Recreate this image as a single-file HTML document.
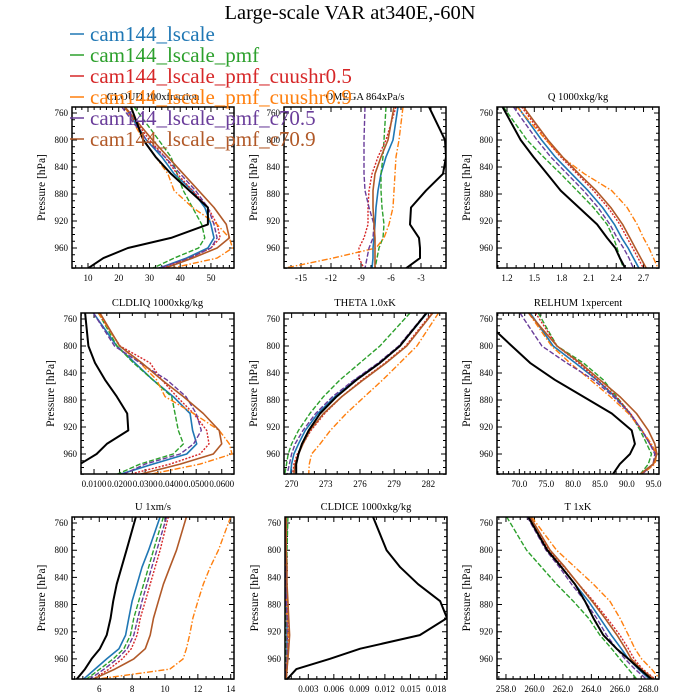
<!DOCTYPE html>
<html><head><meta charset="utf-8">
<style>
html,body{margin:0;padding:0;background:#fff;}
svg{display:block;font-family:"Liberation Serif",serif;}
</style></head>
<body>
<svg id="chart" width="700" height="700" viewBox="0 0 700 700" xmlns="http://www.w3.org/2000/svg">
<text x="350" y="19" text-anchor="middle" font-size="20.5">Large-scale VAR at340E,-60N</text>
</svg>
<script>
// Pressure levels (hPa)
const levels = [751,800,825,850,875,900,925,945,960,975,990];
const seriesNames = ["obs","cam144_lscale","cam144_lscale_pmf","cam144_lscale_pmf_cuushr0.5","cam144_lscale_pmf_cuushr0.9","cam144_lscale_pmf_c70.5","cam144_lscale_pmf_c70.9"];
const pTicks = [760,800,840,880,920,960];

const cloudObs=[24,28,32,37,43,49,49,37,23,15,10];
const cloudBlue=[22,29,34,38,44,48,50,51,49,42,33];
const cloudGreen=[25,33,37,39,41,44,47,48,46,38,31];
const cloudRed=[22,30,35,39,44,49,52,53,50,43,34];
const cloudOrange=[22,28,32,36,38,44,52,56,57,52,37];
const cloudPurple=[21,29,35,40,45,49,51,52,50,43,33];
const cloudBrown=[22,31,36,41,46,51,55,56,52,44,35];
const cloudTicks=[10,20,30,40,50];

const omegaObs=[-2.2,-0.6,-0.5,-0.8,-2.5,-4,-4.1,-3.2,-3.1,-3.1,-4.5];
const omegaBlue=[-5.3,-5.8,-6.5,-7,-7.3,-7.5,-7.6,-7.7,-7.8,-7.8,-7.9];
const omegaGreen=[-6.5,-6.7,-6.8,-7,-7,-6.9,-6.7,-6.8,-7.2,-7.4,-7.6];
const omegaRed=[-5.5,-6.5,-7.3,-7.9,-8.2,-8.3,-8.3,-8.7,-9.2,-9.2,-8.7];
const omegaOrange=[-4.8,-5.2,-5.5,-5.6,-5.7,-5.8,-6.2,-6.7,-7.5,-11.8,-16.7];
const omegaPurple=[-8.6,-8.7,-8.7,-8.7,-8.6,-8.2,-7.7,-7.8,-8.2,-8.4,-8.6];
const omegaBrown=[-5.7,-6.3,-7,-7.6,-7.8,-7.8,-7.7,-7.6,-7.6,-7.6,-7.6];
const omegaTicks=[-15,-12,-9,-6,-3];

const qObs=[1.15,1.35,1.49,1.64,1.79,1.99,2.19,2.30,2.39,2.44,2.50];
const qBlue=[1.32,1.58,1.73,1.91,2.09,2.25,2.38,2.46,2.53,2.59,2.65];
const qGreen=[1.16,1.42,1.6,1.79,1.97,2.15,2.3,2.37,2.41,2.44,2.48];
const qRed=[1.36,1.63,1.79,1.97,2.15,2.31,2.44,2.52,2.58,2.64,2.70];
const qOrange=[1.31,1.63,1.80,2.05,2.35,2.52,2.63,2.7,2.76,2.81,2.86];
const qPurple=[1.27,1.53,1.68,1.86,2.04,2.2,2.33,2.41,2.48,2.54,2.59];
const qBrown=[1.38,1.65,1.81,1.99,2.18,2.34,2.47,2.55,2.61,2.67,2.73];
const qTicks=[1.2,1.5,1.8,2.1,2.4,2.7];

const liqObs=[0.0065,0.0078,0.0104,0.0143,0.0189,0.023,0.0234,0.015,0.011,0.0045,0.0026];
const liqBlue=[0.0097,0.0189,0.026,0.033,0.041,0.0476,0.0486,0.0502,0.0463,0.033,0.0202];
const liqGreen=[0.0117,0.019,0.0254,0.033,0.0404,0.0417,0.043,0.045,0.041,0.028,0.019];
const liqRed=[0.0117,0.0202,0.0319,0.0365,0.0424,0.049,0.0541,0.055,0.0515,0.0398,0.024];
const liqOrange=[0.0117,0.02,0.028,0.0345,0.0378,0.049,0.059,0.063,0.064,0.0515,0.032];
const liqPurple=[0.0097,0.018,0.028,0.0385,0.046,0.05,0.052,0.049,0.0437,0.03,0.0215];
const liqBrown=[0.0123,0.02,0.0287,0.0365,0.045,0.0528,0.059,0.06,0.0567,0.0437,0.028];
const liqTicks=[0.01,0.02,0.03,0.04,0.05,0.06];

const thObs=[281.85,279.5,277.75,275.7,273.95,272.5,271.5,270.9,270.6,270.4,270.4];
const thBlue=[281.9,279.5,277.7,275.6,273.8,272.3,271.2,270.6,270.2,270,269.9];
const thGreen=[280.4,277.75,276,274.25,272.8,271.6,270.6,270,269.7,269.55,269.4];
const thRed=[282.3,280,278.2,276.2,274.4,272.9,271.7,271,270.5,270.2,270.1];
const thOrange=[282.9,281,279.5,278,276.4,274.8,273.4,272.5,271.75,271.55,271.5];
const thPurple=[281.8,279.4,277.6,275.5,273.6,272.1,271,270.3,270,269.8,269.6];
const thBrown=[282.4,280.1,278.3,276.3,274.4,272.8,271.6,271,270.6,270.3,270.2];
const thTicks=[270,273,276,279,282];

const rhObs=[62,68.6,72,76.6,81.9,87.2,90.9,91.5,90.6,88.7,87.4];
const rhBlue=[72,76.3,80.4,84.4,87.8,90.6,92.8,94.3,95.6,94.9,92.5];
const rhGreen=[73.5,77,81.9,85.6,88.1,90.6,92.5,93.7,94.6,94,92.5];
const rhRed=[73,77,81,84.5,88,90.7,92.8,94.3,95.5,95,92.6];
const rhOrange=[71.7,76,79.4,83.2,86.9,90.3,92.8,94.6,95.6,95.2,92.8];
const rhPurple=[70.1,74.2,78.8,83.8,87.5,90.6,92.8,94.3,95.2,94.9,92.8];
const rhBrown=[71.7,77,81.3,85,88.7,91.8,94,95.2,95.6,94.9,92.5];
const rhTicks=[70,75,80,85,90,95];

const uObs=[8.23,7.66,7.36,7.06,6.85,6.69,6.45,6.04,5.53,5.13,4.62];
const uBlue=[9.7,9,8.6,8.3,8,7.8,7.6,7.2,6.45,5.74,5.03];
const uGreen=[9.9,9.3,9,8.7,8.4,8.1,7.9,7.5,6.85,6.04,5.2];
const uRed=[10.2,9.7,9.4,9.1,8.8,8.5,8.3,7.95,7.4,6.6,5.6];
const uOrange=[14,13.25,12.75,12.33,12,11.7,11.5,11.3,11.1,10.3,5.8];
const uPurple=[10.1,9.5,9.2,8.9,8.6,8.35,8.1,7.7,7.1,6.3,5.4];
const uBrown=[11.3,10.7,10.3,9.9,9.6,9.3,9.1,8.8,8.1,6.95,5.6];
const uTicks=[6,8,10,12,14];

const iceObs=[0.0106,0.0122,0.0138,0.0159,0.0185,0.0193,0.0161,0.0091,0.0055,0.0016,0.0005];
const iceBlue=[0.0004,0.0004,0.0004,0.0004,0.0004,0.0005,0.0005,0.0005,0.0005,0.0005,0.0004];
const iceGreen=[0.0006,0.0005,0.0005,0.0004,0.0004,0.0004,0.0004,0.0004,0.0004,0.0004,0.0004];
const iceRed=[0.0004,0.0004,0.0004,0.0004,0.0005,0.0006,0.0007,0.0006,0.0005,0.0005,0.0004];
const iceOrange=[0.0003,0.0003,0.0003,0.0003,0.0004,0.0005,0.0006,0.0006,0.0005,0.0004,0.0004];
const icePurple=[0.0004,0.0004,0.0004,0.0004,0.0004,0.0005,0.0005,0.0005,0.0005,0.0004,0.0004];
const iceBrown=[0.0004,0.0004,0.0005,0.0005,0.0006,0.0007,0.0008,0.0007,0.0006,0.0005,0.0004];
const iceTicks=[0.003,0.006,0.009,0.012,0.015,0.018];

const tObs=[259.57,260.9,261.9,262.85,263.55,264.14,264.84,265.77,266.6,267.4,268.23];
const tBlue=[259.55,260.9,261.9,262.85,263.8,264.6,265.4,266.1,266.6,267.3,268.1];
const tGreen=[258.05,259.45,260.5,261.56,262.73,263.8,264.6,265.42,266,266.6,267.2];
const tRed=[259.6,261,262.1,263.1,264.15,265.1,266,266.6,267,267.6,268.5];
const tOrange=[259.8,261.56,262.85,264.14,265.3,266,266.6,267.06,267.53,268.23,268.82];
const tPurple=[259.5,260.81,261.75,262.61,263.55,264.37,265.07,265.77,266.36,267.06,267.88];
const tBrown=[259.7,261.1,262.15,263.1,264.05,264.95,265.8,266.4,266.8,267.5,268.4];
const tTicks=[258,260,262,264,266,268];

const NS="http://www.w3.org/2000/svg";
const svg=document.getElementById('chart');
const colors=["#000000","#1f77b4","#2ca02c","#d62728","#ff7f0e","#6a3d9a","#b15928"];
const dashes=["","","5,2","2,1.5","6,2,1.5,2","5,2",""];
const widths=[2,1.6,1.4,1.4,1.4,1.4,1.6];
function mk(tag,attrs){const e=document.createElementNS(NS,tag);for(const k in attrs)e.setAttribute(k,attrs[k]);return e;}

const panels=[
 {name:"cloud",title:"CLOUD  100xfraction",x0:72,x1:234,y0:107,y1:268,xmin:4.8,xmax:57.5,ticks:cloudTicks,fmt:v=>String(v),minor:2,series:[cloudObs,cloudBlue,cloudGreen,cloudRed,cloudOrange,cloudPurple,cloudBrown]},
 {name:"omega",title:"OMEGA  864xPa/s",x0:284,x1:446,y0:107,y1:268,xmin:-16.7,xmax:-0.5,ticks:omegaTicks,fmt:v=>String(v),minor:1,series:[omegaObs,omegaBlue,omegaGreen,omegaRed,omegaOrange,omegaPurple,omegaBrown]},
 {name:"q",title:"Q  1000xkg/kg",x0:497,x1:659,y0:107,y1:268,xmin:1.09,xmax:2.87,ticks:qTicks,fmt:v=>v.toFixed(1),minor:0.1,series:[qObs,qBlue,qGreen,qRed,qOrange,qPurple,qBrown]},
 {name:"cldliq",title:"CLDLIQ  1000xkg/kg",x0:81,x1:234,y0:313,y1:474,xmin:0.0049,xmax:0.0648,ticks:liqTicks,fmt:v=>v.toFixed(4),minor:0.005,series:[liqObs,liqBlue,liqGreen,liqRed,liqOrange,liqPurple,liqBrown]},
 {name:"theta",title:"THETA  1.0xK",x0:284,x1:446,y0:313,y1:474,xmin:269.33,xmax:283.55,ticks:thTicks,fmt:v=>String(v),minor:1,series:[thObs,thBlue,thGreen,thRed,thOrange,thPurple,thBrown]},
 {name:"relhum",title:"RELHUM  1xpercent",x0:497,x1:659,y0:313,y1:474,xmin:65.84,xmax:95.99,ticks:rhTicks,fmt:v=>v.toFixed(1),minor:1,series:[rhObs,rhBlue,rhGreen,rhRed,rhOrange,rhPurple,rhBrown]},
 {name:"u",title:"U  1xm/s",x0:72,x1:234,y0:517,y1:679,xmin:4.34,xmax:14.2,ticks:uTicks,fmt:v=>String(v),minor:0.5,series:[uObs,uBlue,uGreen,uRed,uOrange,uPurple,uBrown]},
 {name:"cldice",title:"CLDICE  1000xkg/kg",x0:285,x1:447,y0:517,y1:679,xmin:0.00026,xmax:0.0193,ticks:iceTicks,fmt:v=>v.toFixed(3),minor:0.001,series:[iceObs,iceBlue,iceGreen,iceRed,iceOrange,icePurple,iceBrown]},
 {name:"t",title:"T  1xK",x0:497,x1:659,y0:517,y1:679,xmin:257.37,xmax:268.75,ticks:tTicks,fmt:v=>v.toFixed(1),minor:0.5,series:[tObs,tBlue,tGreen,tRed,tOrange,tPurple,tBrown]}
];
const PMIN=751.1,PMAX=989.6;

panels.forEach((p,pi)=>{
  const g=mk('g',{});
  
  
  svg.appendChild(g);
  const xs=v=>p.x0+(v-p.xmin)/(p.xmax-p.xmin)*(p.x1-p.x0);
  const ys=v=>p.y0+(v-PMIN)/(PMAX-PMIN)*(p.y1-p.y0);
  const cid='clip'+pi;
  const cp=mk('clipPath',{id:cid});cp.appendChild(mk('rect',{x:p.x0,y:p.y0,width:p.x1-p.x0,height:p.y1-p.y0}));g.appendChild(cp);
  // title
  const t=mk('text',{x:(p.x0+p.x1)/2,y:p.y0-7,'text-anchor':'middle','font-size':'10.5'});
  t.textContent=p.title;
  
  
  g.appendChild(t);
  // y label
  const yl=mk('text',{x:0,y:0,'text-anchor':'middle','font-size':'11.5',transform:`translate(${p.x0-27},${(p.y0+p.y1)/2}) rotate(-90)`});
  yl.textContent='Pressure [hPa]';
  
  
  g.appendChild(yl);
  // ticks
  let d='';
  for(let pv=760;pv<=990;pv+=10){const y=ys(pv);const L=(pv%40===0)?5:3;d+=`M${p.x0},${y}h${L}M${p.x1},${y}h${-L}`;}
  pTicks.forEach(pv=>{
    const tx=mk('text',{x:p.x0-4,y:ys(pv)+3,'text-anchor':'end','font-size':'9'});
    tx.textContent=pv;
    
    
    g.appendChild(tx);
  });
  const step=p.minor;
  const start=Math.ceil(p.xmin/step-1e-6);
  for(let k=start;k*step<=p.xmax+1e-9;k++){
    const v=k*step;const x=xs(v);
    const major=p.ticks.some(tv=>Math.abs(tv-v)<step*0.01);
    const L=major?5:3;
    d+=`M${x},${p.y1}v${-L}M${x},${p.y0}v${L}`;
  }
  p.ticks.forEach(tv=>{
    const tx=mk('text',{x:xs(tv),y:p.y1+13,'text-anchor':'middle','font-size':'9'});
    tx.textContent=p.fmt(tv);
    
    
    g.appendChild(tx);
  });
  const tk=mk('path',{d:d,stroke:'#000','stroke-width':'1',fill:'none'});
  
  
  g.appendChild(tk);
  // series (obs drawn last)
  const order=[1,2,3,4,5,6,0];
  order.forEach(si=>{
    const arr=p.series[si];
    const pts=arr.map((v,i)=>xs(v).toFixed(1)+','+ys(levels[i]).toFixed(1)).join(' ');
    const pl=mk('polyline',{points:pts,fill:'none',stroke:colors[si],'stroke-width':widths[si],'clip-path':`url(#${cid})`,'stroke-linejoin':'round'});
    if(dashes[si])pl.setAttribute('stroke-dasharray',dashes[si]);
    
    
    g.appendChild(pl);
  });
  const fr=mk('rect',{x:p.x0,y:p.y0,width:p.x1-p.x0,height:p.y1-p.y0,fill:'none',stroke:'#000','stroke-width':'1.5'});
  
  
  g.appendChild(fr);
});

// legend (drawn on top)
const lg=mk('g',{});


svg.appendChild(lg);
for(let i=1;i<7;i++){
  const y=34+(i-1)*21;
  const ln=mk('line',{x1:70,x2:84,y1:y,y2:y,stroke:colors[i],'stroke-width':'1.5'});
  
  
  lg.appendChild(ln);
  const tx=mk('text',{x:90,y:y+7,'font-size':'21',fill:colors[i]});
  tx.textContent=seriesNames[i];
  
  
  lg.appendChild(tx);
}
</script>
</body></html>
